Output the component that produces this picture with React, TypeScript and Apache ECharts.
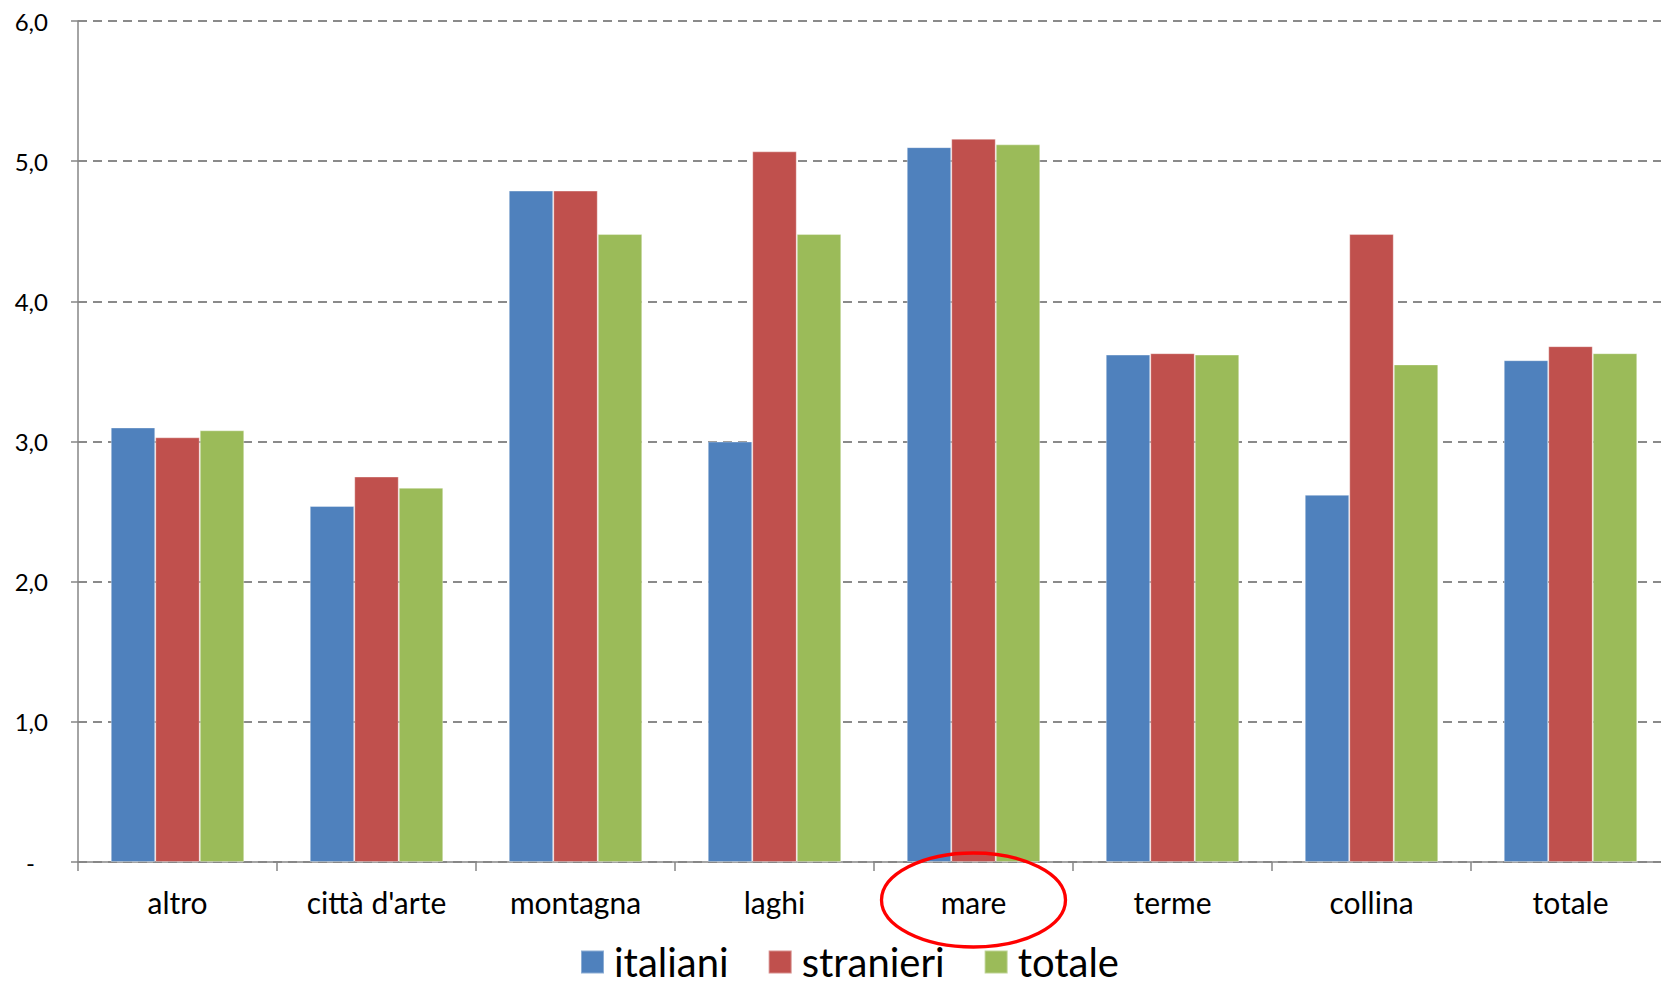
import React, { useEffect, useRef } from 'react';
import * as echarts from 'echarts';

const categories = ['altro', "città d'arte", 'montagna', 'laghi', 'mare', 'terme', 'collina', 'totale'];
const italiani = [3.1, 2.54, 4.79, 3.0, 5.1, 3.62, 2.62, 3.58];
const stranieri = [3.03, 2.75, 4.79, 5.07, 5.16, 3.63, 4.48, 3.68];
const totale = [3.08, 2.67, 4.48, 4.48, 5.12, 3.62, 3.55, 3.63];
const seriesNames = ['italiani', 'stranieri', 'totale'];
const highlighted = 'mare';
const yTicks = { min: 0, max: 6, interval: 1 };

const FONT = 'Lato, "Open Sans", sans-serif';

export default function App() {
  const ref = useRef<HTMLDivElement>(null);
  useEffect(() => {
    if (!ref.current) return;
    const chart = echarts.init(ref.current, null, { renderer: 'svg' });
    const colors = ['#4F81BD', '#C0504D', '#9BBB59'];
    const data = [italiani, stranieri, totale];
    chart.setOption({
      animation: false,
      backgroundColor: '#ffffff',
      textStyle: { fontFamily: FONT },
      grid: { left: 78, top: 21, bottom: 125, right: 0, containLabel: false },
      legend: {
        data: seriesNames,
        left: 575,
        top: 937,
        padding: [5, 5, 0, 5],
        icon: 'rect',
        itemWidth: 23,
        itemHeight: 23,
        itemGap: 39,
        textStyle: {
          fontSize: 40,
          color: '#000',
          fontFamily: FONT,
          padding: [0, 0, 0, 5],
        },
      },
      xAxis: {
        type: 'category',
        data: categories,
        boundaryGap: true,
        axisLine: { lineStyle: { color: '#868686', width: 1.5 } },
        axisTick: { show: true, length: 9, alignWithLabel: false, lineStyle: { color: '#868686', width: 1.5 } },
        axisLabel: { fontSize: 30, color: '#000', margin: 25, fontFamily: FONT, interval: 0 },
        splitLine: { show: false },
      },
      yAxis: {
        type: 'value',
        min: yTicks.min,
        max: yTicks.max,
        interval: yTicks.interval,
        axisLine: { show: true, lineStyle: { color: '#868686', width: 1.5 } },
        axisTick: { show: true, length: 7, lineStyle: { color: '#868686', width: 1.5 } },
        axisLabel: {
          fontSize: 24,
          color: '#000',
          margin: 30,
          fontFamily: FONT,
          formatter: (v: number) => (v === 0 ? '{z|-}' : v.toFixed(1).replace('.', ',')),
          rich: { z: { fontSize: 24, color: '#000', fontFamily: FONT, padding: [0, 13, 0, 0] } },
        },
        splitLine: { show: true, lineStyle: { color: '#8a8a8a', width: 2, type: [9, 6] } },
      },
      series: seriesNames.map((name, i) => ({
        name,
        type: 'bar',
        data: data[i],
        barWidth: 44.5,
        barGap: '0%',
        itemStyle: { color: colors[i], borderColor: 'rgba(255,255,255,0.35)', borderWidth: 1 },
      })),
    });
    const cx = chart.convertToPixel({ xAxisIndex: 0 }, highlighted) as number;
    const y0 = chart.convertToPixel({ yAxisIndex: 0 }, 0) as number;
    chart.setOption({
      graphic: [
        {
          type: 'ellipse',
          z: 100,
          shape: { cx, cy: y0 + 38, rx: 92, ry: 47 },
          style: { fill: 'none', stroke: '#ff0000', lineWidth: 3.3 },
        },
      ],
    });
    return () => chart.dispose();
  }, []);
  return (
    <div
      style={{ position: 'absolute', left: 0, top: 0, width: 1661, height: 987, overflow: 'hidden', background: '#fff' }}
    >
      <div ref={ref} style={{ width: 1670, height: 987 }} />
    </div>
  );
}
